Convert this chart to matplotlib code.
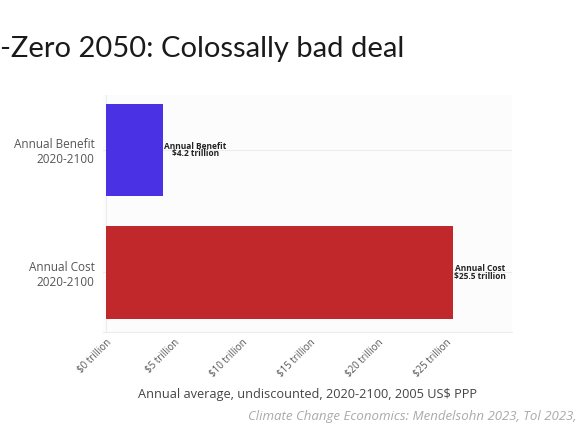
import matplotlib
matplotlib.use("Agg")
import matplotlib.pyplot as plt

# data
categories = ["Annual Cost\n2020-2100", "Annual Benefit\n2020-2100"]
values = [25.5, 4.2]
bar_labels = ["Annual Cost\n$25.5 trillion", "Annual Benefit\n$4.2 trillion"]
bar_colors = ["#c0282c", "#4a31e4"]
tick_vals = [0, 5, 10, 15, 20, 25]
tick_labels = ["$%d trillion" % t for t in tick_vals]

plt.rcParams['font.family'] = ['Open Sans', 'DejaVu Sans']

fig = plt.figure(figsize=(5.76, 4.30), dpi=100)
fig.patch.set_facecolor("white")

# slide title, cut off on the left like the screenshot
fig.text(0.0, 0.885, "-Zero 2050: Colossally bad deal", fontsize=21,
         color="#1a1a1a", ha="left", va="center", family=['Lato', 'DejaVu Sans'])

ax = fig.add_axes([0.179, 0.228, 0.710, 0.551])
ax.set_facecolor("#fcfcfc")

ypos = list(range(len(categories)))
ax.barh(ypos, values, height=0.76, color=bar_colors, zorder=3)

for y, v, lab in zip(ypos, values, bar_labels):
    ax.text(v + 0.1, y, lab, fontsize=6, fontweight="bold", color="#222222",
            ha="left", va="center", multialignment="center", linespacing=0.85, zorder=4)

ax.set_xlim(-0.2, 29.85)
ax.set_ylim(-0.49, 1.45)
ax.set_yticks(ypos)
ax.set_yticklabels(categories, fontsize=8.5, color="#555555", ha="right")
ax.set_xticks(tick_vals)
ax.set_xticklabels(tick_labels, rotation=45, ha="right", rotation_mode="anchor",
                   fontsize=7, color="#555555")
ax.tick_params(axis="both", length=0, pad=6)
ax.tick_params(axis="x", pad=4)

ax.grid(axis="y", color="#ececec", linewidth=0.8, zorder=0)
ax.axvline(0, color="#ececec", linewidth=0.8, zorder=1)
for s in ["top", "right", "left"]:
    ax.spines[s].set_visible(False)
ax.spines["bottom"].set_color("#ececec")
ax.spines["bottom"].set_linewidth(0.8)

ax.set_xlabel("Annual average, undiscounted, 2020-2100, 2005 US$ PPP",
              fontsize=9.2, color="#444444", labelpad=6)

fig.text(1.0, 0.032, "Climate Change Economics: Mendelsohn 2023, Tol 2023,",
         fontsize=9.5, color="#aaaaaa", style="italic", ha="right", va="center")

fig.savefig("out.png", dpi=100)
